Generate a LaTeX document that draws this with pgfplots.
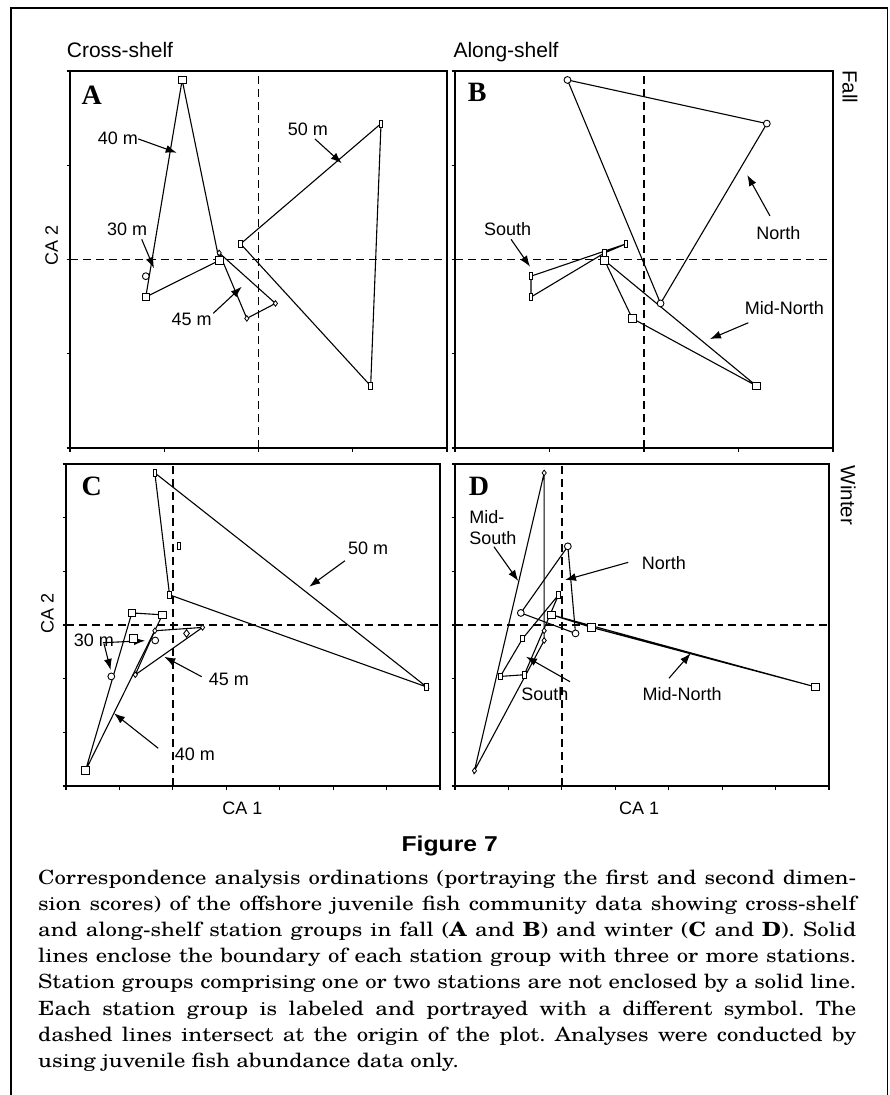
\documentclass[border=0pt]{standalone}
\usepackage{pgfplots}
\pgfplotsset{compat=1.18}
\usepackage{fontspec}
\setmainfont{Liberation Sans}
\newfontfamily\tms{Liberation Serif}
\newfontfamily\capf[FakeStretch=1.16]{TeX Gyre Schola}
\usetikzlibrary{arrows.meta}

\pgfplotsset{
 panel/.style={scale only axis, anchor=south west, clip=false,
   axis line style={line width=1.8pt},
   xticklabels={}, yticklabels={},
   tick align=outside, tick pos=left,
   major tick length=3.5pt,
   tick style={black, line width=1.2pt}},
 poly/.style={black, line width=1.1pt, mark=none},
 dash/.style={black, line width=1.4pt, dash pattern=on 8pt off 5pt, mark=none},
 sq/.style={only marks, mark=square*, mark size=3.8pt, mark options={fill=white, draw=black, line width=0.9pt}},
 rect/.style={only marks, mark=square*, mark size=3.4pt, mark options={fill=white, draw=black, line width=0.9pt, xscale=0.55}},
 dia/.style={only marks, mark=diamond*, mark size=2.8pt, mark options={fill=white, draw=black, line width=0.8pt}},
 bdia/.style={only marks, mark=diamond*, mark size=3.8pt, mark options={fill=white, draw=black, line width=0.9pt}},
 circ/.style={only marks, mark=*, mark size=3.4pt, mark options={fill=white, draw=black, line width=0.9pt}},
}
\tikzset{
 lab/.style={font=\fontsize{18}{21}\selectfont, inner sep=0pt},
 arr/.style={black, line width=1.1pt, -{Latex[length=11pt,width=8pt]}},
 plet/.style={font=\tms\bfseries\fontsize{28}{30}\selectfont, inner sep=0pt},
}

\begin{document}
\begin{tikzpicture}
\useasboundingbox (0pt,0pt) rectangle (889pt,-1095pt);
% outer frame
\draw[line width=1.5pt] (11pt,-1096pt) -- (11pt,-8pt) -- (887.5pt,-8pt) -- (887.5pt,-1096pt);

% ---------------- Panel A ----------------
\begin{axis}[panel, at={(70pt,-448pt)}, width=377pt, height=377pt,
  xmin=-2, xmax=2, ymin=-2, ymax=2, xtick={-2,-1,0,1,2}, ytick={-2,-1,0,1,2}]
\addplot[dash] coordinates {(0,-2) (0,2)};
\addplot[dash] coordinates {(-2,0) (2,0)};
% 40 m
\addplot[poly] coordinates {(-0.810,1.905) (-0.417,-0.010) (-1.196,-0.398) (-0.810,1.905)};
% 45 m
\addplot[poly] coordinates {(-0.417,0.070) (-0.124,-0.625) (0.180,-0.466) (-0.417,0.070)};
% 50 m
\addplot[poly] coordinates {(-0.190,0.166) (1.300,1.442) (1.190,-1.341) (-0.190,0.166)};
\addplot[sq] coordinates {(-0.810,1.905) (-0.417,-0.010) (-1.196,-0.398)};
\addplot[dia] coordinates {(-0.417,0.070) (-0.124,-0.625) (0.180,-0.466)};
\addplot[rect] coordinates {(-0.190,0.166) (1.300,1.442) (1.190,-1.341)};
\addplot[circ] coordinates {(-1.196,-0.177)};
\node[plet] at (axis cs:-1.770,1.745) {A};
\node[lab] at (axis cs:-1.491,1.289) {40 m};
\draw[arr] (axis cs:-1.275,1.279) -- (axis cs:-0.868,1.133);
\node[lab] at (axis cs:0.525,1.385) {50 m};
\draw[arr] (axis cs:0.599,1.279) -- (axis cs:0.883,1.021);
\node[lab] at (axis cs:-1.395,0.324) {30 m};
\draw[arr] (axis cs:-1.239,0.214) -- (axis cs:-1.109,-0.093);
\node[lab] at (axis cs:-0.709,-0.631) {45 m};
\draw[arr] (axis cs:-0.480,-0.571) -- (axis cs:-0.178,-0.289);
\end{axis}

% ---------------- Panel B ----------------
\begin{axis}[panel, at={(455pt,-448pt)}, width=378pt, height=377pt,
  xmin=-2, xmax=2, ymin=-2, ymax=2, xtick={-2,-1,0,1,2}, ytick={-2,-1,0,1,2}]
\addplot[dash] coordinates {(0,-2) (0,2)};
\addplot[dash] coordinates {(-2,0) (2,0)};
% North
\addplot[poly] coordinates {(-0.810,1.905) (1.300,1.442) (0.175,-0.466) (-0.810,1.905)};
% South
\addplot[poly] coordinates {(-1.196,-0.177) (-0.190,0.166) (-0.417,0.070) (-1.196,-0.398) (-1.196,-0.177)};
% Mid-North
\addplot[poly] coordinates {(-0.417,-0.010) (-0.124,-0.625) (1.190,-1.341) (-0.417,-0.010)};
\addplot[circ] coordinates {(-0.810,1.905) (1.300,1.442) (0.175,-0.466)};
\addplot[rect] coordinates {(-1.196,-0.177) (-0.190,0.166) (-0.417,0.070) (-1.196,-0.398)};
\addplot[sq] coordinates {(-0.417,-0.010) (-0.124,-0.625) (1.190,-1.341)};
\node[plet] at (axis cs:-1.764,1.770) {B};
\node[lab] at (axis cs:-1.442,0.320) {South};
\draw[arr] (axis cs:-1.407,0.214) -- (axis cs:-1.206,-0.076);
\node[lab] at (axis cs:1.421,0.284) {North};
\draw[arr] (axis cs:1.333,0.462) -- (axis cs:1.093,0.897);
\node[lab] at (axis cs:1.485,-0.511) {Mid-North};
\draw[arr] (axis cs:1.104,-0.671) -- (axis cs:0.698,-0.844);
\end{axis}

% ---------------- Panel C ----------------
\begin{axis}[panel, at={(66pt,-786pt)}, width=374pt, height=322pt,
  xmin=-2, xmax=5, ymin=-3, ymax=3, xtick={-2,...,5}, ytick={-3,...,3}]
\addplot[dash] coordinates {(0,-3) (0,3)};
\addplot[dash] coordinates {(-2,0) (5,0)};
% 50 m
\addplot[poly] coordinates {(-0.337,2.834) (4.752,-1.155) (-0.062,0.562) (-0.337,2.834)};
% 40 m
\addplot[poly] coordinates {(-0.768,0.225) (-0.193,0.190) (-1.636,-2.715) (-0.768,0.225)};
% 45 m
\addplot[poly] coordinates {(-0.337,-0.107) (0.556,-0.045) (-0.703,-0.927) (-0.337,-0.107)};
\addplot[rect] coordinates {(-0.337,2.834) (4.752,-1.155) (-0.062,0.562) (0.112,1.466)};
\addplot[sq] coordinates {(-0.768,0.225) (-0.193,0.190) (-1.636,-2.715) (-0.733,-0.251)};
\addplot[dia] coordinates {(-0.337,-0.107) (0.556,-0.045) (-0.703,-0.927)};
\addplot[bdia] coordinates {(0.256,-0.157)};
\addplot[circ] coordinates {(-0.330,-0.288) (-1.152,-0.958)};
\node[plet] at (axis cs:-1.520,2.577) {C};
\node[lab] at (axis cs:3.657,1.429) {50 m};
\draw[arr] (axis cs:3.221,1.198) -- (axis cs:2.553,0.714);
\node[lab] at (axis cs:-1.477,-0.279) {30 m};
\draw[arr] (axis cs:-1.310,-0.330) -- (axis cs:-0.520,-0.292);
\draw[arr] (axis cs:-1.290,-0.345) -- (axis cs:-1.164,-0.838);
\node[lab] at (axis cs:1.050,-1.012) {45 m};
\draw[arr] (axis cs:0.539,-0.963) -- (axis cs:-0.161,-0.591);
\node[lab] at (axis cs:0.414,-2.404) {40 m};
\draw[arr] (axis cs:-0.273,-2.297) -- (axis cs:-1.102,-1.645);
\end{axis}

% ---------------- Panel D ----------------
\begin{axis}[panel, at={(455pt,-786pt)}, width=374pt, height=322pt,
  xmin=-2, xmax=5, ymin=-3, ymax=3, xtick={-2,...,5}, ytick={-3,...,3}]
\addplot[dash] coordinates {(0,-3) (0,3)};
\addplot[dash] coordinates {(-2,0) (5,0)};
% Mid-South
\addplot[poly] coordinates {(-0.331,2.834) (-0.331,-0.107) (-0.331,-0.288) (-1.636,-2.715) (-0.331,2.834)};
% South
\addplot[poly] coordinates {(-0.062,0.562) (-0.733,-0.251) (-1.152,-0.958) (-0.703,-0.927) (-0.062,0.562)};
% North
\addplot[poly] coordinates {(0.112,1.466) (-0.768,0.225) (0.256,-0.157) (0.112,1.466)};
% Mid-North
\addplot[poly] coordinates {(-0.193,0.190) (0.556,-0.045) (4.752,-1.155) (-0.193,0.190)};
\addplot[dia] coordinates {(-0.331,2.834) (-0.331,-0.107) (-0.331,-0.288) (-1.636,-2.715)};
\addplot[rect] coordinates {(-0.062,0.562) (-0.733,-0.251) (-1.152,-0.958) (-0.703,-0.927)};
\addplot[circ] coordinates {(0.112,1.466) (-0.768,0.225) (0.256,-0.157)};
\addplot[sq] coordinates {(-0.193,0.190) (0.556,-0.045) (4.752,-1.155)};
\node[plet] at (axis cs:-1.552,2.590) {D};
\node[lab, anchor=west, align=left] at (axis cs:-1.733,1.811) {Mid-\\South};
\draw[arr] (axis cs:-1.271,1.459) -- (axis cs:-0.816,0.820);
\node[lab] at (axis cs:1.911,1.161) {North};
\draw[arr] (axis cs:1.243,1.168) -- (axis cs:0.058,0.838);
\node[lab] at (axis cs:-0.316,-1.286) {South};
\draw[arr] (axis cs:0.152,-1.056) -- (axis cs:-0.672,-0.591);
\node[lab] at (axis cs:2.253,-1.286) {Mid-North};
\draw[arr] (axis cs:2.004,-0.993) -- (axis cs:2.411,-0.527);
\end{axis}

% ---------------- outer labels ----------------
\node[font=\fontsize{21}{23}\selectfont, inner sep=0pt, anchor=base west] at (66.7pt,-57.3pt) {Cross-shelf};
\node[font=\fontsize{21}{23}\selectfont, inner sep=0pt, anchor=base west] at (453.3pt,-57.3pt) {Along-shelf};
\node[font=\fontsize{20.5}{23}\selectfont, inner sep=0pt, rotate=-90] at (850pt,-86.7pt) {Fall};
\node[font=\fontsize{20.5}{23}\selectfont, inner sep=0pt, rotate=-90] at (848.3pt,-495.5pt) {Winter};
\node[font=\fontsize{18}{21}\selectfont, inner sep=0pt, rotate=90] at (51.7pt,-245pt) {CA 2};
\node[font=\fontsize{18}{21}\selectfont, inner sep=0pt, rotate=90] at (47.5pt,-613pt) {CA 2};
\node[font=\fontsize{18}{21}\selectfont, inner sep=0pt] at (242.5pt,-808.3pt) {CA 1};
\node[font=\fontsize{18}{21}\selectfont, inner sep=0pt] at (639.2pt,-808.3pt) {CA 1};
\node[font=\bfseries\fontsize{21.5}{24}\selectfont, inner sep=0pt, anchor=base, xscale=1.15] at (449.7pt,-851.5pt) {Figure 7};
\node[inner sep=0pt, anchor=base west] at (38pt,-884.5pt) {\parbox[t]{818pt}{\capf\frenchspacing\fontsize{19.6}{26.1}\selectfont
Correspondence analysis ordinations (portraying the first and second dimen-\linebreak
sion scores) of the offshore juvenile fish community data showing cross-shelf\linebreak
and along-shelf station groups in fall (\textbf{A} and \textbf{B}) and winter (\textbf{C} and \textbf{D}). Solid\linebreak
lines enclose the boundary of each station group with three or more stations.\linebreak
Station groups comprising one or two stations are not enclosed by a solid line.\linebreak
Each station group is labeled and portrayed with a different symbol. The\linebreak
dashed lines intersect at the origin of the plot. Analyses were conducted by\linebreak
using juvenile fish abundance data only.}};
\end{tikzpicture}
\end{document}
